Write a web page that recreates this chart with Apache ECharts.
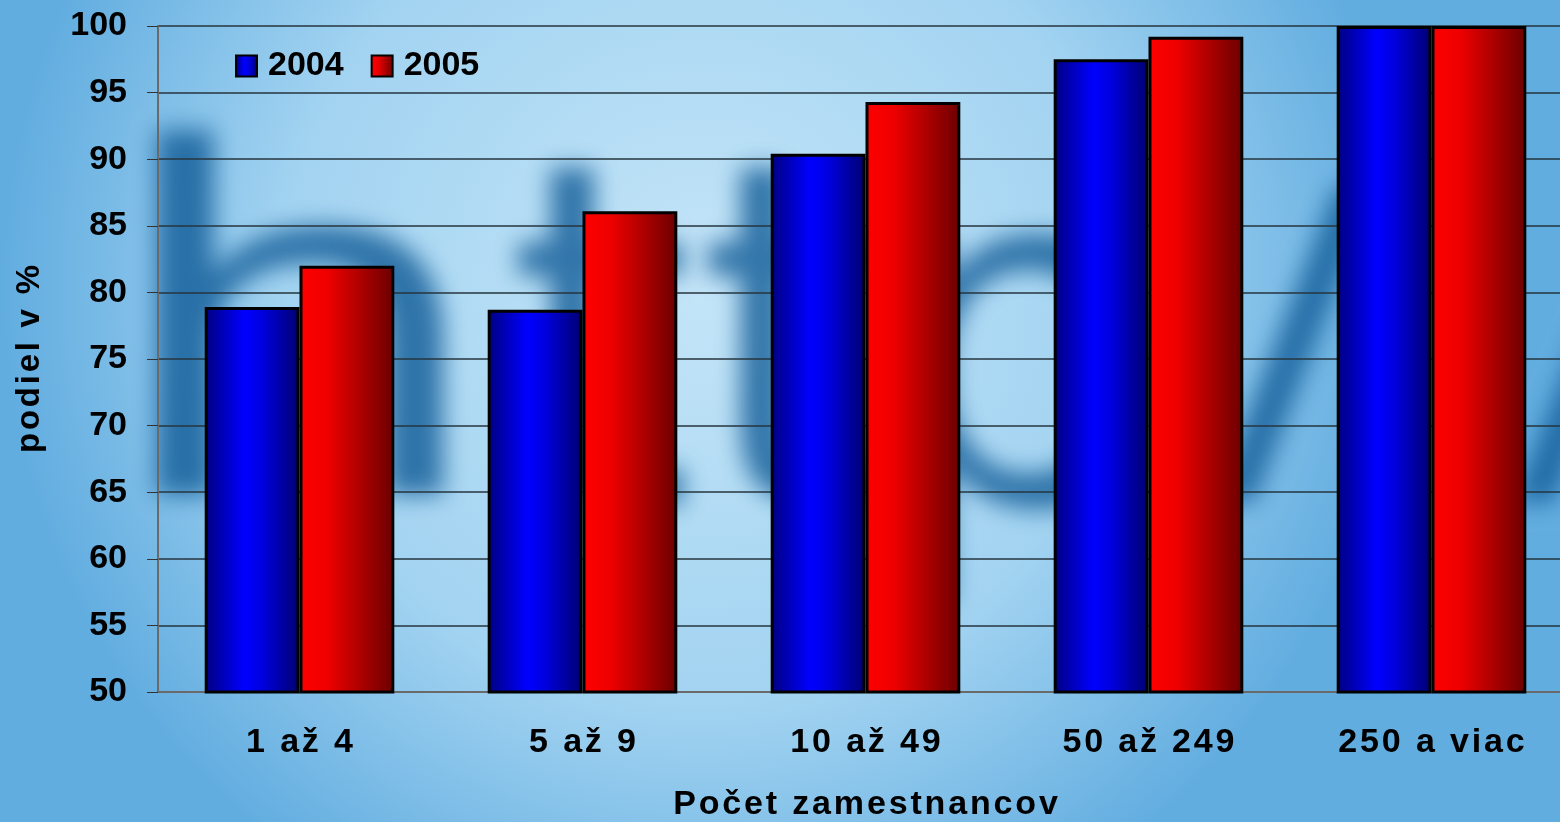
<!DOCTYPE html>
<html>
<head>
<meta charset="utf-8">
<script src="https://cdn.jsdelivr.net/npm/echarts@6/dist/echarts.min.js"></script>
<style>
  html, body { margin: 0; padding: 0; }
  #main { width: 1560px; height: 822px; }
</style>
</head>
<body>
<div id="main"></div>
<script>
// kategórie a hodnoty
const categories = ['1 až 4', '5 až 9', '10 až 49', '50 až 249', '250 a viac']
const y2004 = [78.9, 78.7, 90.4, 97.5, 100]
const y2005 = [82.0, 86.1, 94.3, 99.2, 100]
const yTicks = [50, 55, 60, 65, 70, 75, 80, 85, 90, 95, 100]

const FONT = '"Liberation Sans", Arial, sans-serif'

// riedenie písma (hair space medzi znakmi)
function spaced(s, n) {
  return s.split('').join('\u200a'.repeat(n || 1))
}

let chart = echarts.init(document.getElementById('main'))

// rozmazany napis "http://" v pozadi (tien textu posunuty do obrazu)
function ghost(ch, x, y, sx, sy) {
  return {
    type: 'text',
    x: x - 4000,
    y: y,
    scaleX: sx || 1,
    scaleY: sy || 1,
    silent: true,
    z: -5,
    style: {
      text: ch,
      font: '480px "DejaVu Sans"',
      fill: '#000',
      align: 'center',
      verticalAlign: 'top',
      textShadowColor: 'rgba(15,90,150,0.8)',
      textShadowBlur: 24,
      textShadowOffsetX: 4000
    }
  }
}

const blueBar = new echarts.graphic.LinearGradient(0, 0, 1, 0, [
  { offset: 0, color: '#000080' },
  { offset: 0.42, color: '#0000ff' },
  { offset: 0.6, color: '#0000e0' },
  { offset: 1, color: '#000070' }
])
const redBar = new echarts.graphic.LinearGradient(0, 0, 1, 0, [
  { offset: 0, color: '#ff0000' },
  { offset: 0.3, color: '#ee0000' },
  { offset: 1, color: '#6a0000' }
])

let option = {
  animation: false,
  graphic: [
    {
      type: 'rect',
      silent: true,
      z: -10,
      shape: { x: 0, y: 0, width: 1560, height: 822 },
      style: {
        fill: new echarts.graphic.RadialGradient(0.45, 0.35, 0.85, [
          { offset: 0, color: '#c4e5f8' },
          { offset: 0.6, color: '#a2d3f1' },
          { offset: 1, color: '#62ade0' }
        ])
      }
    },
    ghost('h', 298, 130, 1.3),
    ghost('t', 600, 140),
    ghost('t', 790, 140),
    ghost('p', 1020, 138, 1.05),
    ghost('/', 1295, 175, 1, 0.8),
    ghost('/', 1595, 175, 1, 0.8)
  ],
  legend: {
    left: 230,
    top: 44,
    itemWidth: 21,
    itemHeight: 21,
    itemGap: 27,
    icon: 'rect',
    itemStyle: { borderColor: '#000', borderWidth: 2 },
    textStyle: {
      fontFamily: FONT,
      fontWeight: 'bold',
      fontSize: 34,
      color: '#000',
      padding: [0, 0, 0, 6]
    },
    data: ['2004', '2005']
  },
  grid: {
    left: 158,
    top: 26,
    width: 1415,
    height: 666,
    outerBoundsMode: 'none'
  },
  xAxis: {
    type: 'category',
    data: categories,
    name: spaced('Počet zamestnancov', 1),
    nameLocation: 'middle',
    nameGap: 96,
    nameTextStyle: {
      fontFamily: FONT,
      fontWeight: 'bold',
      fontSize: 34,
      color: '#000'
    },
    axisLine: { lineStyle: { color: '#6a6a6a', width: 2 } },
    axisTick: { length: 11, lineStyle: { color: '#555' } },
    axisLabel: {
      margin: 34,
      fontFamily: FONT,
      fontWeight: 'bold',
      fontSize: 34,
      color: '#000',
      formatter: v => spaced(v, 1)
    }
  },
  yAxis: {
    type: 'value',
    min: yTicks[0],
    max: yTicks[yTicks.length - 1],
    interval: 5,
    name: spaced('podiel v %', 1),
    nameLocation: 'middle',
    nameGap: 112,
    nameTextStyle: {
      fontFamily: FONT,
      fontWeight: 'bold',
      fontSize: 33,
      color: '#000'
    },
    axisLine: { show: true, lineStyle: { color: '#6a6a6a', width: 2 } },
    axisTick: { show: true, length: 11, lineStyle: { color: '#333' } },
    axisLabel: {
      margin: 31,
      fontFamily: FONT,
      fontWeight: 'bold',
      fontSize: 34,
      color: '#000'
    },
    splitLine: { lineStyle: { color: '#26343e', width: 1.5 } }
  },
  series: [
    {
      name: '2004',
      type: 'bar',
      data: y2004,
      barGap: '0%',
      barCategoryGap: '33%',
      itemStyle: { color: blueBar, borderColor: '#000', borderWidth: 3 }
    },
    {
      name: '2005',
      type: 'bar',
      data: y2005,
      itemStyle: { color: redBar, borderColor: '#000', borderWidth: 3 }
    }
  ]
}

chart.setOption(option)
</script>
</body>
</html>
